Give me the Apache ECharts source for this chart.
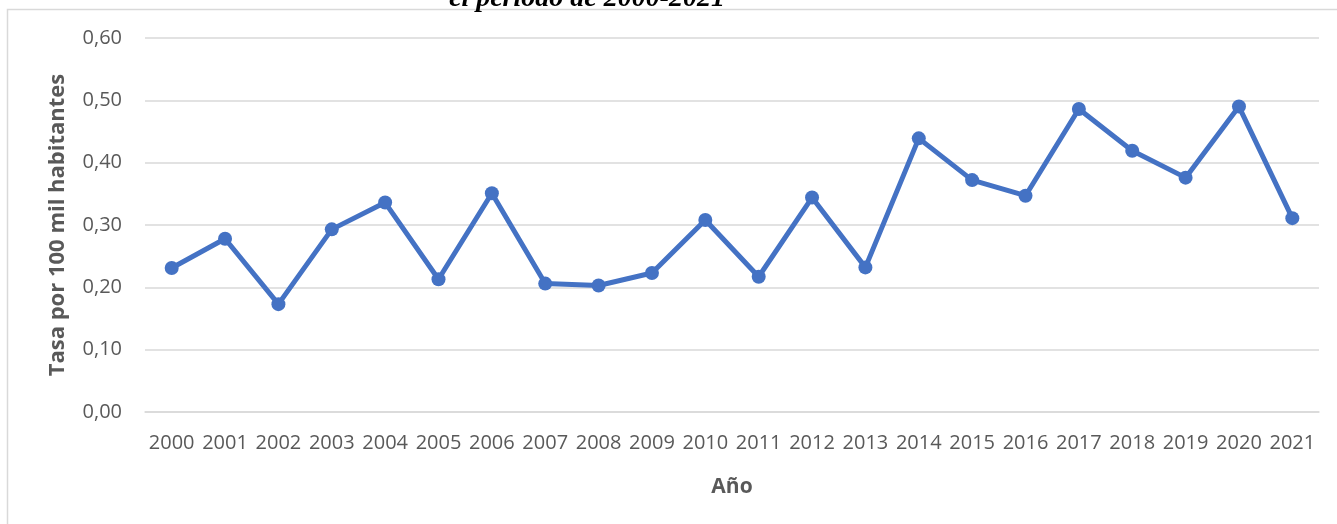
<!DOCTYPE html>
<html>
<head>
<meta charset="utf-8">
<script src="https://cdn.jsdelivr.net/npm/echarts@6/dist/echarts.min.js"></script>
<style>
html,body{margin:0;padding:0;background:#fff;}
#c{width:1337px;height:524px;}
</style>
</head>
<body>
<div id="c"></div>
<script>
const years = ['2000','2001','2002','2003','2004','2005','2006','2007','2008','2009','2010','2011','2012','2013','2014','2015','2016','2017','2018','2019','2020','2021'];
const tasa = [0.231,0.278,0.173,0.293,0.336,0.213,0.351,0.206,0.203,0.223,0.308,0.217,0.344,0.232,0.439,0.372,0.347,0.486,0.419,0.376,0.490,0.311];
const yTicks = {min:0, max:0.6, interval:0.1};

const chart = echarts.init(document.getElementById('c'), null, {renderer:'canvas'});
const font = '"Open Sans", "Noto Sans", sans-serif';
chart.setOption({
  animation:false,
  backgroundColor:'#ffffff',
  graphic:[
    {type:'rect', shape:{x:7.5, y:9.5, width:1400, height:600}, style:{fill:'none', stroke:'#d9d9d9', lineWidth:1.5}, silent:true, z:-10},
    {type:'text', x:587, y:-1, style:{text:'el período de 2000-2021', font:'italic bold 28px "Liberation Serif", "DejaVu Serif", serif', fill:'#000', textAlign:'center', textVerticalAlign:'middle'}, z:10}
  ],
  grid:{left:145, right:18, top:38, bottom:112, containLabel:false},
  xAxis:{
    type:'category', data:years, boundaryGap:true,
    name:'Año', nameLocation:'middle', nameGap:65,
    nameTextStyle:{fontFamily:font, fontSize:21, fontWeight:'bold', color:'#595959'},
    axisLine:{show:true, lineStyle:{color:'#d9d9d9', width:1.5}},
    axisTick:{show:false},
    axisLabel:{fontFamily:font, fontSize:20, color:'#595959', margin:21, interval:0}
  },
  yAxis:{
    type:'value', min:yTicks.min, max:yTicks.max, interval:yTicks.interval,
    name:'Tasa por 100 mil habitantes', nameLocation:'middle', nameGap:76, nameRotate:90,
    nameTextStyle:{fontFamily:font, fontSize:22, fontWeight:'bold', color:'#595959'},
    axisLine:{show:false}, axisTick:{show:false},
    splitLine:{lineStyle:{color:'#d9d9d9', width:1.5}},
    axisLabel:{fontFamily:font, fontSize:20, color:'#595959', margin:23,
      formatter:v=>v.toFixed(2).replace('.',',')}
  },
  series:[{
    type:'line', data:tasa,
    lineStyle:{color:'#4472C4', width:5},
    itemStyle:{color:'#4472C4'},
    symbol:'circle', symbolSize:14, showSymbol:true
  }]
});
</script>
</body>
</html>
